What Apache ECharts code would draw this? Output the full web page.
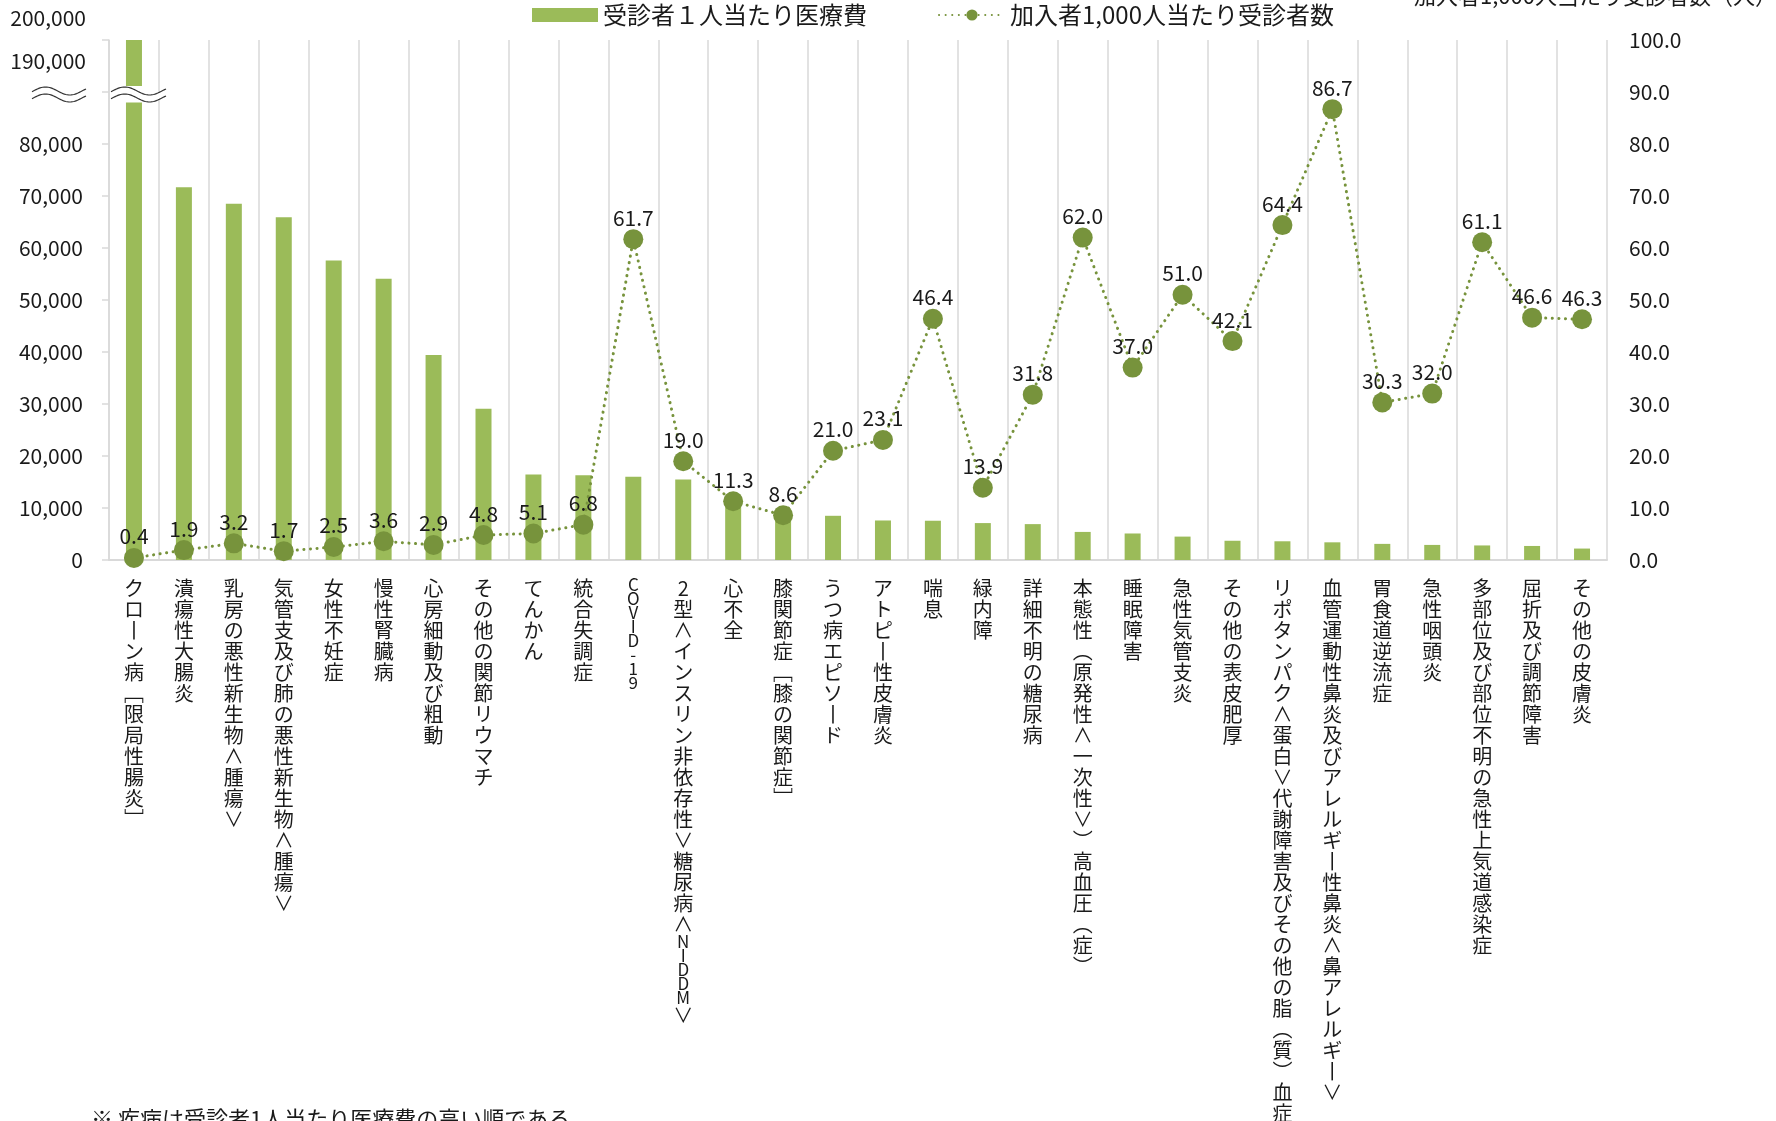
<!DOCTYPE html>
<html><head><meta charset="utf-8">
<script src="https://cdn.jsdelivr.net/npm/echarts@6/dist/echarts.min.js"></script>
<style>html,body{margin:0;padding:0;background:#fff}#c{width:1776px;height:1121px}</style>
</head><body><div id="c"></div>
<script>
const categories = [
  'クローン病［限局性腸炎］','潰瘍性大腸炎','乳房の悪性新生物<腫瘍>','気管支及び肺の悪性新生物<腫瘍>',
  '女性不妊症','慢性腎臓病','心房細動及び粗動','その他の関節リウマチ','てんかん','統合失調症',
  'COVID-19','2型<インスリン非依存性>糖尿病<NIDDM>','心不全','膝関節症［膝の関節症］','うつ病エピソード',
  'アトピー性皮膚炎','喘息','緑内障','詳細不明の糖尿病','本態性（原発性<一次性>）高血圧（症）',
  '睡眠障害','急性気管支炎','その他の表皮肥厚','リポタンパク<蛋白>代謝障害及びその他の脂（質）血症',
  '血管運動性鼻炎及びアレルギー性鼻炎<鼻アレルギー>','胃食道逆流症','急性咽頭炎',
  '多部位及び部位不明の急性上気道感染症','屈折及び調節障害','その他の皮膚炎'
];
const costPerPatient = [
  194500, 71700, 68500, 65900, 57600, 54100, 39400, 29100, 16450, 16300,
  16000, 15500, 11500, 9000, 8500, 7600, 7550, 7100, 6900, 5400,
  5100, 4500, 3700, 3600, 3400, 3100, 2900, 2800, 2700, 2200
];
const patientsPer1000 = [
  0.4, 1.9, 3.2, 1.7, 2.5, 3.6, 2.9, 4.8, 5.1, 6.8,
  61.7, 19.0, 11.3, 8.6, 21.0, 23.1, 46.4, 13.9, 31.8, 62.0,
  37.0, 51.0, 42.1, 64.4, 86.7, 30.3, 32.0, 61.1, 46.6, 46.3
];
const seriesNames = ['受診者１人当たり医療費', '加入者1,000人当たり受診者数'];
const brokenTickLabels = ['200,000', '190,000'];
const rightAxisTitle = '加入者1,000人当たり受診者数（人）';
const footnote = '※ 疾病は受診者1人当たり医療費の高い順である。';

const FONT = "'Noto Sans CJK JP', 'Noto Sans', sans-serif";
const TXT = '#1a1a1a';
const GRID = '#D9D9D9';
const vmap = {'<':'∧','>':'∨','［':'﹇','］':'﹈','（':'︵','）':'︶','ー':'丨'};

// vertical (tategaki-like) label: one character per line, Latin runs compressed
function verticalLabel(v) {
  const chars = Array.from(v);
  const isLat = c => /[A-Za-z0-9\-]/.test(c);
  return chars.map((c, i) => {
    const runLat = isLat(c) && ((i > 0 && isLat(chars[i - 1])) || (i < chars.length - 1 && isLat(chars[i + 1])));
    return runLat ? '{lat|' + c + '}' : '{n|' + (vmap[c] || c) + '}';
  }).join('\n');
}

const chart = echarts.init(document.getElementById('c'));
chart.setOption({
  animation: false,
  backgroundColor: '#fff',
  textStyle: { fontFamily: FONT },
  grid: { left: 109, right: 169, top: 40, bottom: 561, containLabel: false, outerBoundsMode: 'none' },
  legend: {
    left: 532, top: 3, padding: 0, itemWidth: 66, itemHeight: 14, itemGap: 71,
    textStyle: { fontSize: 24, color: TXT, fontFamily: FONT },
    data: [{ name: seriesNames[0], icon: 'rect' }, { name: seriesNames[1] }]
  },
  xAxis: {
    type: 'category', data: categories,
    axisLine: { lineStyle: { color: GRID, width: 2 } },
    axisTick: { show: false },
    splitLine: { show: true, interval: 0, lineStyle: { color: GRID, width: 1.5 } },
    axisLabel: {
      interval: 0, margin: 18, color: TXT, fontFamily: FONT, verticalAlign: 'top',
      formatter: verticalLabel,
      rich: {
        n: { fontSize: 20, lineHeight: 21, color: TXT, fontFamily: FONT },
        lat: { fontSize: 17, lineHeight: 14, color: TXT, fontFamily: FONT }
      }
    }
  },
  yAxis: [
    {
      type: 'value', min: 0, max: 100000, interval: 10000,
      axisLine: { show: true, lineStyle: { color: GRID, width: 1.5 } },
      axisTick: { show: true, length: 7, lineStyle: { color: GRID, width: 1.5 } },
      splitLine: { show: false },
      axisLabel: {
        margin: 26, fontSize: 21, color: TXT, fontFamily: FONT,
        formatter: v => v >= 90000 ? '' : v.toLocaleString('en-US')
      }
    },
    {
      type: 'value', min: 0, max: 100, interval: 10,
      axisLine: { show: false }, axisTick: { show: false }, splitLine: { show: false },
      axisLabel: { margin: 22, fontSize: 21, color: TXT, fontFamily: FONT, formatter: v => v.toFixed(1) }
    }
  ],
  series: [
    {
      name: seriesNames[0], type: 'bar', data: costPerPatient, barWidth: 16, clip: true,
      itemStyle: { color: '#9BBB59' }
    },
    {
      name: seriesNames[1], type: 'line', yAxisIndex: 1, data: patientsPer1000,
      symbol: 'circle', symbolSize: 20,
      itemStyle: { color: '#77933C' },
      lineStyle: { color: '#77933C', width: 3, type: [0.1, 6.5], cap: 'round' },
      label: { show: true, position: 'top', distance: 1, fontSize: 21, color: TXT, fontFamily: FONT,
               formatter: p => p.value.toFixed(1) },
      z: 5
    }
  ]
});

// Axis-break decoration positioned from the axes themselves
const barX = chart.convertToPixel({ xAxisIndex: 0 }, 0);
const axisX = barX - chart.getModel().getComponent('xAxis', 0).axis.getBandWidth() / 2;
const yBreak = chart.convertToPixel({ yAxisIndex: 0 }, 90000);
const yc = yBreak + 2.5;

function wavePts(x0, w, off) {
  const pts = [];
  const P = 0.9 * w, phi = Math.PI / 2 - 2 * Math.PI * 0.25 / 0.9;
  for (let i = 0; i <= 40; i++) {
    const u = w * i / 40;
    pts.push([x0 + u, yc + off - 4 * Math.sin(2 * Math.PI * u / P + phi)]);
  }
  return pts;
}
function breakSym(x0, w) {
  const top = wavePts(x0, w, -3.5), bot = wavePts(x0, w, 3.5);
  return [
    { type: 'polygon', shape: { points: top.concat(bot.slice().reverse()) }, style: { fill: '#fff' }, z: 100 },
    { type: 'polyline', shape: { points: top }, style: { stroke: '#333', lineWidth: 1.2, fill: null }, z: 101 },
    { type: 'polyline', shape: { points: bot }, style: { stroke: '#333', lineWidth: 1.2, fill: null }, z: 101 }
  ];
}
const gfx = [
  { type: 'rect', shape: { x: barX - 10, y: yBreak - 6, width: 20, height: 16.5 }, style: { fill: '#fff' }, z: 99 },
  ...breakSym(axisX - 77, 54),
  ...breakSym(axisX + 2, 55),
  { type: 'text', x: 86, y: 18, style: { text: brokenTickLabels[0], font: '21px ' + FONT, fill: TXT, align: 'right', verticalAlign: 'middle' }, z: 102 },
  { type: 'text', x: 86, y: 61, style: { text: brokenTickLabels[1], font: '21px ' + FONT, fill: TXT, align: 'right', verticalAlign: 'middle' }, z: 102 },
  { type: 'text', x: 1414, y: -4, style: { text: rightAxisTitle, font: '22px ' + FONT, fill: TXT, align: 'left', verticalAlign: 'middle' }, z: 102 },
  { type: 'text', x: 91, y: 1119, style: { text: footnote, font: '22px ' + FONT, fill: TXT, align: 'left', verticalAlign: 'middle' }, z: 102 }
];
chart.setOption({ graphic: gfx });
</script>
</body></html>
